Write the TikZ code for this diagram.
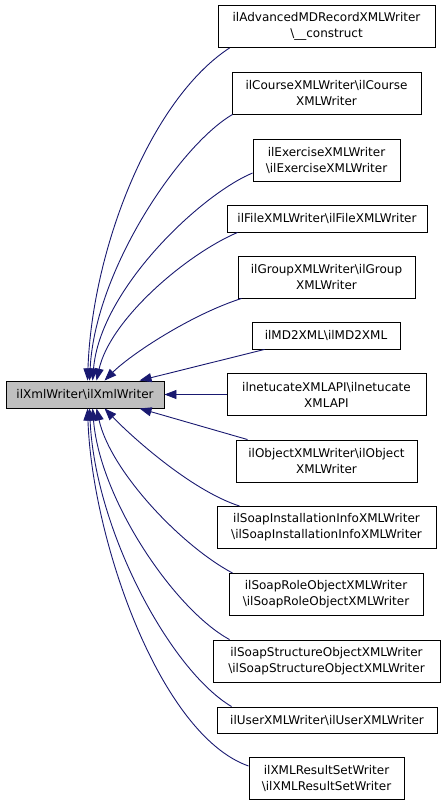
\documentclass[tikz,border=0pt]{standalone}
\usepackage{fontspec}
\setmainfont{DejaVu Sans}
\usetikzlibrary{arrows.meta}
\definecolor{edgeblue}{RGB}{25,25,112}
\definecolor{basegray}{RGB}{191,191,191}
\newcommand{\bsl}{\textbackslash}

\begin{document}
\begin{tikzpicture}[
    x=1pt, y=-1pt,
    font=\fontsize{12}{16}\selectfont,
    classbox/.style={draw=black, line width=0.9pt, fill=white, align=center, inner sep=0pt, minimum height=42pt},
    basebox/.style={classbox, fill=basegray},
    edge/.style={-{Triangle[length=12pt, width=9pt]}, draw=edgeblue, line width=0.9pt}
]
\useasboundingbox (0,0) rectangle (445,805);

% base class (grey)
\node[basebox, minimum width=158pt, minimum height=27pt] (xmlwriter) at (85,394.5) {ilXmlWriter\bsl ilXmlWriter};

% derived classes, one column
\node[classbox, minimum width=217pt] (advmd) at (326.5,26.5) {ilAdvancedMDRecordXMLWriter\\\bsl\_\_construct};
\node[classbox, minimum width=189pt] (course) at (326.5,93) {ilCourseXMLWriter\bsl ilCourse\\XMLWriter};
\node[classbox, minimum width=147pt] (exercise) at (326.5,160) {ilExerciseXMLWriter\\\bsl ilExerciseXMLWriter};
\node[classbox, minimum width=200pt, minimum height=27pt] (file) at (327,218.5) {ilFileXMLWriter\bsl ilFileXMLWriter};
\node[classbox, minimum width=177pt] (group) at (326.5,277) {ilGroupXMLWriter\bsl ilGroup\\XMLWriter};
\node[classbox, minimum width=148pt, minimum height=27pt] (mdxml) at (326,335.5) {ilMD2XML\bsl ilMD2XML};
\node[classbox, minimum width=199pt] (netucate) at (326.5,394.5) {ilnetucateXMLAPI\bsl ilnetucate\\XMLAPI};
\node[classbox, minimum width=181pt] (object) at (326.5,461) {ilObjectXMLWriter\bsl ilObject\\XMLWriter};
\node[classbox, minimum width=219pt] (soapinst) at (326.5,527.5) {ilSoapInstallationInfoXMLWriter\\\bsl ilSoapInstallationInfoXMLWriter};
\node[classbox, minimum width=194pt] (soaprole) at (326,594.5) {ilSoapRoleObjectXMLWriter\\\bsl ilSoapRoleObjectXMLWriter};
\node[classbox, minimum width=227pt] (soapstruct) at (326.5,661) {ilSoapStructureObjectXMLWriter\\\bsl ilSoapStructureObjectXMLWriter};
\node[classbox, minimum width=220pt, minimum height=26pt] (user) at (327,720) {ilUserXMLWriter\bsl ilUserXMLWriter};
\node[classbox, minimum width=155pt] (resultset) at (326.5,778.5) {ilXMLResultSetWriter\\\bsl ilXMLResultSetWriter};

% inheritance edges, upper half
\draw[edge] ([xshift=12pt]advmd.south west) .. controls (150,100) and (92,250) .. ([xshift=82pt]xmlwriter.north west);
\draw[edge] ([xshift=1pt]course.south west) .. controls (180,145) and (95,270) .. ([xshift=84pt]xmlwriter.north west);
\draw[edge] ([yshift=-13pt]exercise.west) .. controls (200,195) and (100,290) .. ([xshift=87pt]xmlwriter.north west);
\draw[edge] ([xshift=11pt]file.south west) .. controls (185,255) and (110,320) .. ([xshift=91pt]xmlwriter.north west);
\draw[edge] ([xshift=4pt]group.south west) .. controls (190,315) and (130,355) .. ([xshift=99pt]xmlwriter.north west);
\draw[edge] ([xshift=13pt]mdxml.south west) -- ([xshift=134pt]xmlwriter.north west);

\draw[edge] (netucate.west) -- (xmlwriter.east);

% inheritance edges, lower half
\draw[edge] ([xshift=12pt]object.north west) -- ([xshift=134pt]xmlwriter.south west);
\draw[edge] ([xshift=23pt]soapinst.north west) .. controls (190,490) and (130,435) .. ([xshift=99pt]xmlwriter.south west);
\draw[edge] ([xshift=4pt]soaprole.north west) .. controls (180,545) and (110,470) .. ([xshift=91pt]xmlwriter.south west);
\draw[edge] ([xshift=17pt]soapstruct.north west) .. controls (175,610) and (100,500) .. ([xshift=87pt]xmlwriter.south west);
\draw[edge] ([xshift=15pt]user.north west) .. controls (170,670) and (95,530) .. ([xshift=84pt]xmlwriter.south west);
\draw[edge] ([yshift=12.5pt]resultset.west) .. controls (160,735) and (92,540) .. ([xshift=82pt]xmlwriter.south west);

\end{tikzpicture}
\end{document}
